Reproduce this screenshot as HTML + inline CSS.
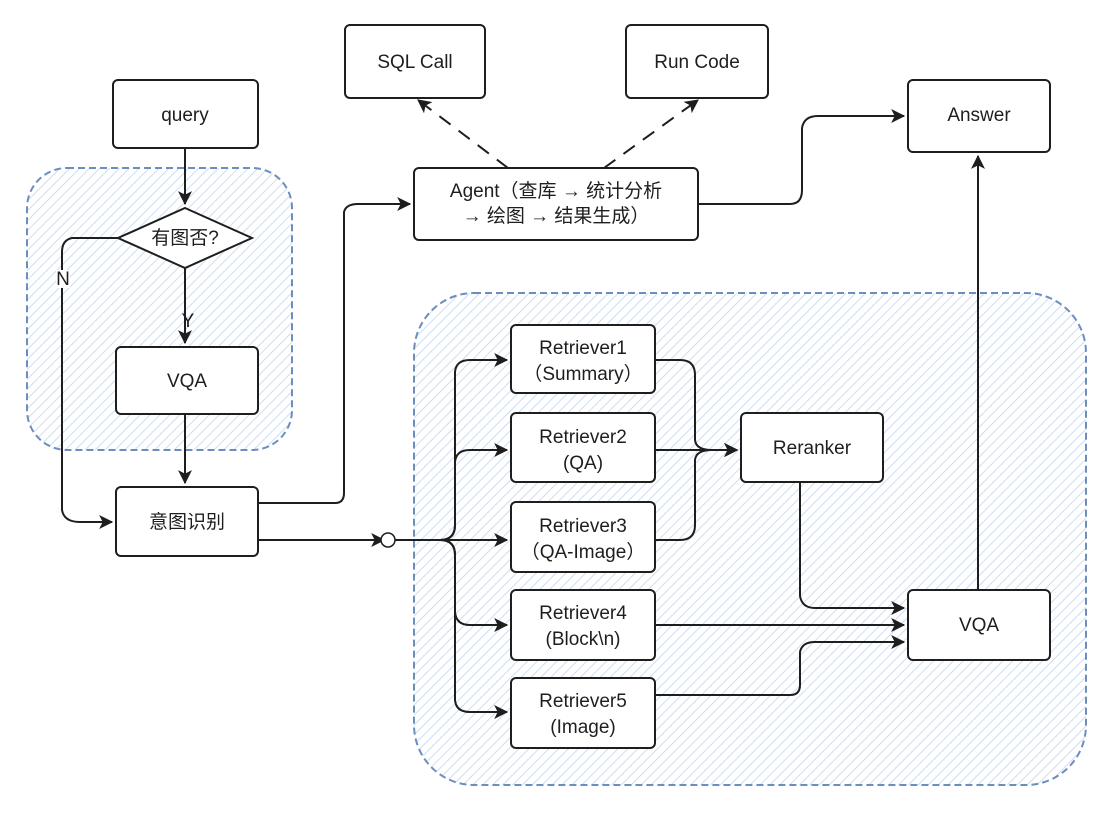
<!DOCTYPE html>
<html><head><meta charset="utf-8"><style>
html,body{margin:0;padding:0;background:#fff;}
svg text{font-family:"Liberation Sans","Noto Sans CJK SC",sans-serif;font-size:19px;fill:#1e1e1e;}
</style></head><body>
<svg width="1112" height="813" viewBox="0 0 1112 813" xmlns="http://www.w3.org/2000/svg">
<defs>
<pattern id="h" width="7" height="7" patternUnits="userSpaceOnUse" patternTransform="rotate(45)">
<rect width="7" height="7" fill="#fff"/>
<line x1="0" y1="0" x2="0" y2="7" stroke="#bcd3f0" stroke-width="1.5"/>
</pattern>
<marker id="a" viewBox="0 0 12 12" refX="11" refY="6" markerWidth="14" markerHeight="14" markerUnits="userSpaceOnUse" orient="auto">
<path d="M0,0 L12,6 L0,12 L3,6 Z" fill="#1e1e1e"/>
</marker>
</defs>
<rect x="27" y="168" width="265" height="282" rx="40" fill="url(#h)" stroke="#6c8ebf" stroke-width="2" stroke-dasharray="7 4"/>
<rect x="414" y="293" width="672" height="492" rx="60" fill="url(#h)" stroke="#6c8ebf" stroke-width="2" stroke-dasharray="7 4"/>
<g fill="#fff" stroke="#1e1e1e" stroke-width="2">
<rect x="113" y="80" width="145" height="68" rx="5"/>
<path d="M185,208 L252,238 L185,268 L118,238 Z"/>
<rect x="116" y="347" width="142" height="67" rx="5"/>
<rect x="116" y="487" width="142" height="69" rx="5"/>
<rect x="414" y="168" width="284" height="72" rx="5"/>
<rect x="345" y="25" width="140" height="73" rx="5"/>
<rect x="626" y="25" width="142" height="73" rx="5"/>
<rect x="908" y="80" width="142" height="72" rx="5"/>
<rect x="511" y="325" width="144" height="68" rx="5"/>
<rect x="511" y="413" width="144" height="69" rx="5"/>
<rect x="511" y="502" width="144" height="70" rx="5"/>
<rect x="511" y="590" width="144" height="70" rx="5"/>
<rect x="511" y="678" width="144" height="70" rx="5"/>
<rect x="741" y="413" width="142" height="69" rx="5"/>
<rect x="908" y="590" width="142" height="70" rx="5"/>
</g>
<g fill="none" stroke="#1e1e1e" stroke-width="2" marker-end="url(#a)">
<path d="M185,148 L185,204"/>
<path d="M185,268 L185,343"/>
<path d="M185,414 L185,483"/>
<path d="M118,238 L72,238 Q62,240 62,252 L62,510 Q64,522 80,522 L112,522"/>
<path d="M258,503 L335,503 Q344,503 344,493 L344,212 Q346,204 358,204 L410,204"/>
<path d="M258,540 L384,540"/>
<path d="M392,540 L440,540 Q455,540 455,525 L455,372 Q456,360 470,360 L507,360"/>
<path d="M440,540 Q455,540 455,525 L455,462 Q456,450 470,450 L507,450"/>
<path d="M440,540 L507,540"/>
<path d="M440,540 Q455,540 455,555 L455,612 Q456,625 470,625 L507,625"/>
<path d="M440,540 Q455,540 455,555 L455,700 Q456,712 470,712 L507,712"/>
<path d="M655,360 L680,360 Q695,360 695,375 L695,440 Q696,450 712,450 L737,450"/>
<path d="M655,450 L737,450"/>
<path d="M655,540 L680,540 Q695,540 695,525 L695,460 Q696,450 712,450 L737,450"/>
<path d="M800,482 L800,596 Q802,608 815,608 L904,608"/>
<path d="M655,625 L904,625"/>
<path d="M655,695 L790,695 Q800,695 800,685 L800,652 Q802,642 815,642 L904,642"/>
<path d="M978,590 L978,156"/>
<path d="M698,204 L790,204 Q802,204 802,190 L802,128 Q804,116 818,116 L904,116"/>
<path d="M508,168 L418,100" stroke-dasharray="14 10"/>
<path d="M604,168 L698,100" stroke-dasharray="14 10"/>
</g>
<circle cx="388" cy="540" r="7" fill="#fff" stroke="#1e1e1e" stroke-width="1.5"/>
<rect x="56" y="270" width="14" height="18" fill="#fff"/>
<text x="63" y="285" text-anchor="middle" font-size="16">N</text>
<text x="188" y="327" text-anchor="middle" font-size="16">Y</text>
<g text-anchor="middle">
<text x="185" y="121">query</text>
<text x="185" y="244">有图否?</text>
<text x="187" y="387">VQA</text>
<text x="187" y="528">意图识别</text>
<text x="556" y="197">Agent（查库 → 统计分析</text>
<text x="556" y="222">→ 绘图 → 结果生成）</text>
<text x="415" y="68">SQL Call</text>
<text x="697" y="68">Run Code</text>
<text x="979" y="121">Answer</text>
<text x="583" y="354">Retriever1</text>
<text x="583" y="380">（Summary）</text>
<text x="583" y="443">Retriever2</text>
<text x="583" y="469">(QA)</text>
<text x="583" y="532">Retriever3</text>
<text x="583" y="558">（QA-Image）</text>
<text x="583" y="619">Retriever4</text>
<text x="583" y="645">(Block\n)</text>
<text x="583" y="707">Retriever5</text>
<text x="583" y="733">(Image)</text>
<text x="812" y="454">Reranker</text>
<text x="979" y="631">VQA</text>
</g>
</svg>
</body></html>
